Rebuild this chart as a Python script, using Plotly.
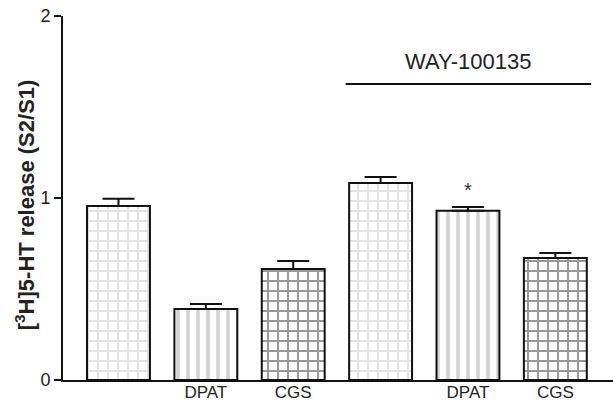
import plotly.graph_objects as go

groups = ["Control", "DPAT", "CGS", "WAY", "WAY+DPAT", "WAY+CGS"]
tick_labels = ["", "DPAT", "CGS", "", "DPAT", "CGS"]
values = [0.956, 0.39, 0.61, 1.082, 0.93, 0.67]
errors = [0.04, 0.028, 0.044, 0.033, 0.02, 0.028]
pattern_shapes = ["+", "|", "+", "+", "|", "+"]
bg_colors = ["#e4e4e4", "#d2d2d2", "#989898", "#e4e4e4", "#d2d2d2", "#989898"]
fg_colors = ["#ffffff", "#f4f4f4", "#dcdcdc", "#ffffff", "#f4f4f4", "#dcdcdc"]

xpos = list(range(len(groups)))

fig = go.Figure()
fig.add_trace(go.Bar(
    x=xpos, y=values, width=0.72,
    marker=dict(
        color=bg_colors,
        line=dict(color="#111111", width=2),
        pattern=dict(shape=pattern_shapes, bgcolor=bg_colors, fgcolor=fg_colors,
                     size=10, solidity=0.35, fillmode="replace"),
    ),
    error_y=dict(type="data", array=errors, arrayminus=[0] * len(errors),
                 color="#111111", thickness=2, width=16, symmetric=False),
    showlegend=False,
))

fig.add_shape(type="line", x0=2.6, x1=5.41, y0=1.626, y1=1.626,
              line=dict(color="#111111", width=2))
fig.add_annotation(x=4.0, y=1.75, text="WAY-100135", showarrow=False,
                   font=dict(size=22, color="#222222", family="Liberation Sans"))
fig.add_annotation(x=4.0, y=1.045, text="*", showarrow=False,
                   font=dict(size=20, color="#333333", family="Liberation Sans"))
fig.add_annotation(xref="paper", yref="paper", x=-38 / 550, y=0.48,
                   xanchor="center", yanchor="middle", textangle=-90,
                   text="<b>[<sup>3</sup>H]5-HT release (S2/S1)</b>", showarrow=False,
                   font=dict(size=22, color="#222222", family="Liberation Sans"))

fig.update_layout(
    width=613, height=404,
    margin=dict(l=63, r=0, t=16, b=24, autoexpand=False),
    plot_bgcolor="white", paper_bgcolor="white",
    font=dict(family="Liberation Sans", color="#222222"),
)
fig.update_xaxes(range=[-0.635, 5.66], tickvals=xpos, ticktext=tick_labels,
                 showline=True, linecolor="#111111", linewidth=2, ticks="",
                 showgrid=False, zeroline=False, tickfont=dict(size=17),
                 ticklabelstandoff=-4, automargin=False)
fig.update_yaxes(range=[0, 2], tickvals=[0, 1, 2], ticks="outside", ticklen=7,
                 tickwidth=2, tickcolor="#111111", showline=True,
                 linecolor="#111111", linewidth=2, showgrid=False, zeroline=False,
                 tickfont=dict(size=18), automargin=False)

fig.write_html("out.html", config={"displayModeBar": False},
               post_script="document.body.style.margin='0';document.body.style.padding='0';")
